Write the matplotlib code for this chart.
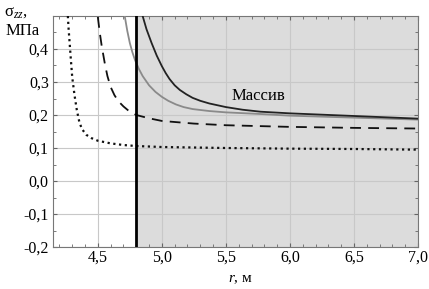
import matplotlib
matplotlib.use("Agg")
import matplotlib.pyplot as plt
from matplotlib.ticker import MultipleLocator, FuncFormatter

# Data
r_dark = [4.85, 4.88, 4.92, 4.96, 5.0, 5.03, 5.06, 5.1, 5.14, 5.19, 5.24, 5.3, 5.37, 5.5, 5.63, 5.77, 6.0, 6.25, 6.5, 6.75, 7.0]
s_dark = [0.50, 0.46, 0.418, 0.38, 0.348, 0.327, 0.309, 0.29, 0.276, 0.263, 0.252, 0.243, 0.235, 0.224, 0.216, 0.21, 0.205, 0.201, 0.197, 0.193, 0.189]

r_gray = [4.71, 4.73, 4.75, 4.77, 4.79, 4.82, 4.85, 4.9, 4.95, 5.0, 5.05, 5.11, 5.17, 5.24, 5.37, 5.5, 5.77, 6.0, 6.5, 7.0]
s_gray = [0.50, 0.455, 0.418, 0.39, 0.367, 0.34, 0.318, 0.29, 0.27, 0.255, 0.243, 0.232, 0.224, 0.218, 0.212, 0.208, 0.203, 0.198, 0.192, 0.186]

r_dash = [4.5, 4.515, 4.53, 4.555, 4.575, 4.6, 4.63, 4.66, 4.7, 4.74, 4.8, 4.9, 5.0, 5.25, 5.5, 6.0, 6.5, 7.0]
s_dash = [0.497, 0.45, 0.41, 0.355, 0.318, 0.285, 0.26, 0.242, 0.226, 0.213, 0.2, 0.19, 0.182, 0.174, 0.169, 0.164, 0.161, 0.159]

r_dot = [4.266, 4.272, 4.28, 4.29, 4.30, 4.318, 4.336, 4.355, 4.375, 4.41, 4.45, 4.5, 4.6, 4.7, 4.8, 5.0, 5.5, 6.0, 6.5, 7.0]
s_dot = [0.50, 0.46, 0.418, 0.365, 0.315, 0.26, 0.215, 0.18, 0.158, 0.14, 0.13, 0.122, 0.114, 0.109, 0.106, 0.103, 0.1, 0.098, 0.097, 0.095]

r_boundary = 4.8
x_ticks = [4.5, 5.0, 5.5, 6.0, 6.5, 7.0]
y_ticks = [-0.2, -0.1, 0.0, 0.1, 0.2, 0.3, 0.4]

plt.rcParams['font.family'] = ['Liberation Serif', 'DejaVu Serif']
plt.rcParams['mathtext.fontset'] = 'custom'
plt.rcParams['mathtext.rm'] = 'Liberation Serif'
plt.rcParams['mathtext.it'] = 'Liberation Serif:italic'

fig = plt.figure(figsize=(4.29, 2.89), dpi=100)
ax = fig.add_axes([53/429, 1-247/289, (418-53)/429, (247-16)/289])

ax.set_xlim(4.15, 7.0)
ax.set_ylim(-0.2, 0.5)

ax.axvspan(r_boundary, 7.0, color='#dcdcdc', zorder=0, lw=0)
ax.set_xticks(x_ticks)
ax.set_yticks(y_ticks)
ax.xaxis.set_minor_locator(MultipleLocator(0.1))
ax.yaxis.set_minor_locator(MultipleLocator(0.05))
ax.grid(True, which='major', color='#c8c8c8', lw=0.8, zorder=1)

ax.plot(r_dot, s_dot, color='#111111', lw=1.6, ls=(0, (1, 1.6)), zorder=3)
ax.plot(r_dash, s_dash, color='#111111', lw=1.3, ls=(0, (6, 4)), zorder=3)
ax.plot(r_gray, s_gray, color='#8a8a8a', lw=1.3, zorder=3)
ax.plot(r_dark, s_dark, color='#222222', lw=1.3, zorder=3)
ax.axvline(r_boundary, color='black', lw=2, zorder=4)

fmt = FuncFormatter(lambda v, p: f"{v:.1f}".replace('.', ',').replace('-0,0', '0,0'))
ax.xaxis.set_major_formatter(fmt)
ax.yaxis.set_major_formatter(fmt)

ax.tick_params(which='both', direction='in', top=True, right=True, labelsize=11.5, color='#666666')
ax.tick_params(which='major', length=3)
ax.tick_params(which='minor', length=2)
ax.tick_params(axis='x', pad=2)
ax.tick_params(axis='y', pad=3)
for sp in ax.spines.values():
    sp.set_color('#777777')
    sp.set_linewidth(0.8)

ax.text(5.75, 0.245, 'Массив', fontsize=12, ha='center', va='baseline', zorder=5)

fig.text(4/429, 1-12/289, r'$\mathrm{\sigma}_{zz}$,', fontsize=12, ha='left', va='center')
fig.text(6/429, 1-31/289, 'МПа', fontsize=12, ha='left', va='center')
fig.text(240/429, 1-279/289, r'$r$, м', fontsize=11, ha='center', va='center')

fig.savefig('out.png', dpi=100)
